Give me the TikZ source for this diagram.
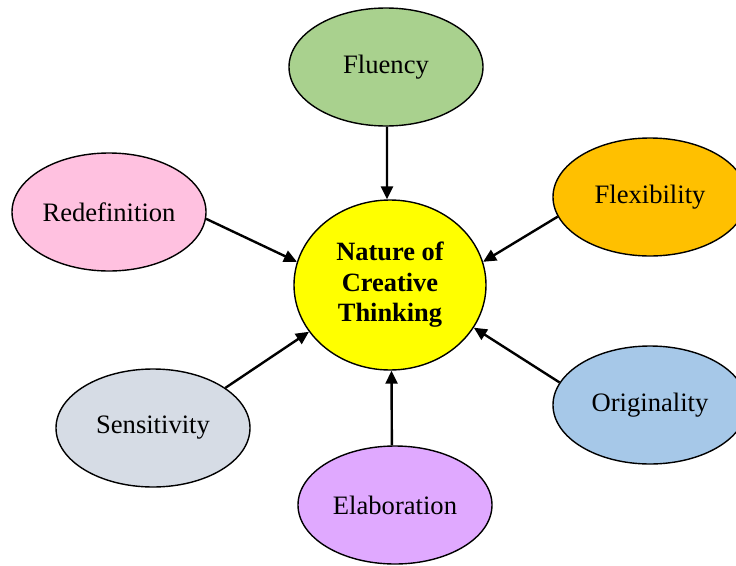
\documentclass[tikz,border=0pt]{standalone}
\usepackage{fontspec}
\setmainfont{Liberation Serif}
\usetikzlibrary{shapes.geometric,arrows.meta}

\definecolor{fluencyc}{HTML}{A9D18E}
\definecolor{flexc}{HTML}{FFC000}
\definecolor{origc}{HTML}{A6C8E8}
\definecolor{redefc}{HTML}{FFC1E0}
\definecolor{sensc}{HTML}{D6DCE5}
\definecolor{elabc}{HTML}{E0A9FF}
\definecolor{corec}{HTML}{FFFF00}

\tikzset{
  trait/.style={ellipse, draw=black, line width=1.4pt, inner sep=0pt,
    minimum width=194pt, minimum height=118pt,
    font=\fontsize{26.6}{31}\selectfont},
  core/.style={ellipse, draw=black, line width=1.4pt, fill=corec, inner sep=0pt,
    minimum width=192pt, minimum height=170pt, align=center,
    font=\fontsize{26.4}{30.5}\selectfont\bfseries},
  link/.style={line width=2.4pt, -{Triangle[length=13pt,width=12pt]}}
}

\begin{document}
\begin{tikzpicture}[x=1pt,y=-1pt]
  \clip (0,0) rectangle (736,565);
  \fill[white] (0,0) rectangle (736,565);

  % central concept
  \node[core] (core) at (390,285) {Nature of\\Creative\\Thinking};

  % surrounding traits
  \node[trait, fill=fluencyc] (flu)  at (386,67)  {Fluency};
  \node[trait, fill=flexc]    (flex) at (650,197) {Flexibility};
  \node[trait, fill=origc]    (orig) at (650,405) {Originality};
  \node[trait, fill=elabc]    (elab) at (395,505) {Elaboration};
  \node[trait, fill=sensc]    (sens) at (153,428) {Sensitivity};
  \node[trait, fill=redefc]   (red)  at (109,212) {Redefinition};

  % connectors into the centre
  \draw[link] (flu.-89)    -- (core.92);
  \draw[link] (flex.192.7) -- (core.14);
  \draw[link] (orig.166)   -- (core.333);
  \draw[link] (elab.93)    -- (core.271);
  \draw[link] (sens.29)    -- (core.210);
  \draw[link] (red.-4)     -- (core.166);
\end{tikzpicture}
\end{document}
